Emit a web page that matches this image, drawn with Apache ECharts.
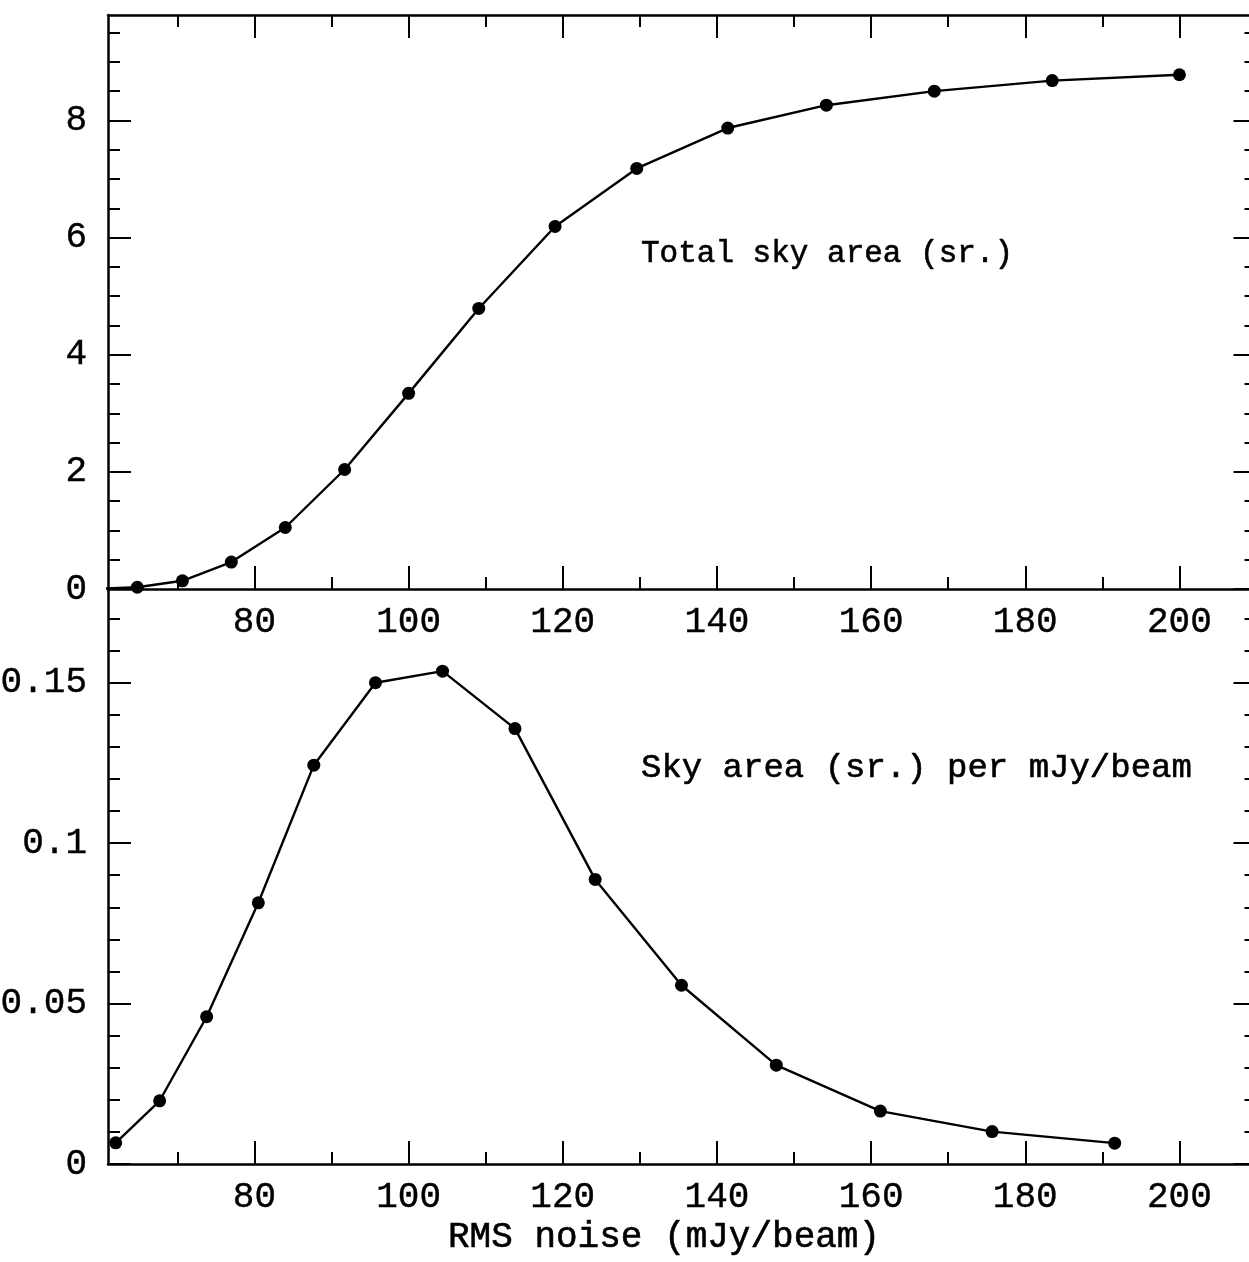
<!DOCTYPE html>
<html>
<head>
<meta charset="utf-8">
<title>Sky area vs RMS noise</title>
<script src="https://cdn.jsdelivr.net/npm/echarts@6/dist/echarts.min.js"></script>
<style>
html, body { margin: 0; padding: 0; background: #fff; }
#chart { width: 1249px; height: 1262px; }
</style>
</head>
<body>
<div id="chart"></div>
<script>
// upper panel: cumulative sky area vs rms noise (first point lies left of the axis)
const totalNoise = [59.4, 64.8, 70.65, 77.0, 84.0, 91.7, 100.0, 109.1, 119.0, 129.6, 141.4, 154.2, 168.2, 183.5, 200.0]
const totalArea = [0, 0.03, 0.14, 0.46, 1.05, 2.04, 3.34, 4.79, 6.19, 7.18, 7.87, 8.26, 8.50, 8.68, 8.78]

// lower panel: sky area per mJy/beam
const diffNoise = [62.0, 67.7, 73.8, 80.5, 87.7, 95.7, 104.4, 113.8, 124.2, 135.4, 147.7, 161.2, 175.7, 191.6]
const diffArea = [0.0066, 0.0197, 0.0459, 0.0814, 0.1243, 0.1500, 0.1536, 0.1357, 0.0887, 0.0557, 0.0308, 0.0165, 0.0101, 0.0065]

// ticks
const xMajor = [80, 100, 120, 140, 160, 180, 200]
const xMinor = [70, 90, 110, 130, 150, 170, 190]
const topYMajor = [0, 2, 4, 6, 8]
const topYMinor = [0.5, 1, 1.5, 2.5, 3, 3.5, 4.5, 5, 5.5, 6.5, 7, 7.5, 8.5, 9, 9.5]
const botYMajor = [0, 0.05, 0.1, 0.15]
const botYMinor = [0.01, 0.02, 0.03, 0.04, 0.06, 0.07, 0.08, 0.09, 0.11, 0.12, 0.13, 0.14, 0.16, 0.17]

const xMin = 61, xMax = 210
const topYMax = 9.8, botYMax = 0.1792
const labelFont = 'Liberation Mono'

function axis(grid, pos, min, max, ticks, len, line, labels) {
    return {
        type: 'value',
        gridIndex: grid,
        position: pos,
        min: min,
        max: max,
        axisLine: { show: line, onZero: false, lineStyle: { color: '#000', width: 2.5 } },
        axisTick: { show: true, inside: true, length: len, customValues: ticks, lineStyle: { color: '#000', width: 2 } },
        axisLabel: labels ? {
            show: true,
            customValues: labels,
            margin: (pos === 'left') ? 21 : 15,
            color: '#000',
            fontFamily: labelFont,
            fontSize: 36,
            textBorderColor: '#000',
            textBorderWidth: 0.4,
            formatter: (v) => String(v)
        } : { show: false },
        splitLine: { show: false }
    }
}

const chart = echarts.init(document.getElementById('chart'))

const option = {
    animation: false,
    backgroundColor: '#fff',
    grid: [
        { left: 108, top: 15, width: 1148.5, height: 574, outerBoundsMode: 'none', containLabel: false },
        { left: 108, top: 589, width: 1148.5, height: 575, outerBoundsMode: 'none', containLabel: false }
    ],
    xAxis: [
        axis(0, 'bottom', xMin, xMax, xMajor, 23, true, xMajor),
        axis(0, 'bottom', xMin, xMax, xMinor, 12, false),
        axis(0, 'top', xMin, xMax, xMajor, 23, true),
        axis(0, 'top', xMin, xMax, xMinor, 12, false),
        axis(1, 'bottom', xMin, xMax, xMajor, 23, true, xMajor),
        axis(1, 'bottom', xMin, xMax, xMinor, 12, false)
    ],
    yAxis: [
        axis(0, 'left', 0, topYMax, topYMajor, 23, true, topYMajor),
        axis(0, 'left', 0, topYMax, topYMinor, 12, false),
        axis(0, 'right', 0, topYMax, topYMajor, 23, true),
        axis(0, 'right', 0, topYMax, topYMinor, 12, false),
        axis(1, 'left', 0, botYMax, botYMajor, 23, true, botYMajor),
        axis(1, 'left', 0, botYMax, botYMinor, 12, false),
        axis(1, 'right', 0, botYMax, botYMajor, 23, true),
        axis(1, 'right', 0, botYMax, botYMinor, 12, false)
    ],
    series: [
        {
            type: 'line',
            xAxisIndex: 0,
            yAxisIndex: 0,
            data: totalNoise.map((x, i) => [x, totalArea[i]]),
            symbol: 'circle',
            symbolSize: (v) => v[0] < xMin ? 0 : 13,
            clip: true,
            lineStyle: { color: '#000', width: 2.4 },
            itemStyle: { color: '#000' }
        },
        {
            type: 'line',
            xAxisIndex: 4,
            yAxisIndex: 4,
            data: diffNoise.map((x, i) => [x, diffArea[i]]),
            symbol: 'circle',
            symbolSize: 13,
            clip: true,
            lineStyle: { color: '#000', width: 2.4 },
            itemStyle: { color: '#000' }
        }
    ],
    graphic: [
        {
            type: 'text', x: 641, y: 254,
            style: { text: 'Total sky area (sr.)', fontFamily: labelFont, fontSize: 31, fill: '#000', stroke: '#000', lineWidth: 0.6, verticalAlign: 'middle' }
        },
        {
            type: 'text', x: 641, y: 768,
            style: { text: 'Sky area (sr.) per mJy/beam', fontFamily: labelFont, fontSize: 34, fill: '#000', stroke: '#000', lineWidth: 0.6, verticalAlign: 'middle' }
        },
        {
            type: 'text', x: 448, y: 1237,
            style: { text: 'RMS noise (mJy/beam)', fontFamily: labelFont, fontSize: 36, fill: '#000', stroke: '#000', lineWidth: 0.6, verticalAlign: 'middle' }
        }
    ]
}

chart.setOption(option)
</script>
</body>
</html>
